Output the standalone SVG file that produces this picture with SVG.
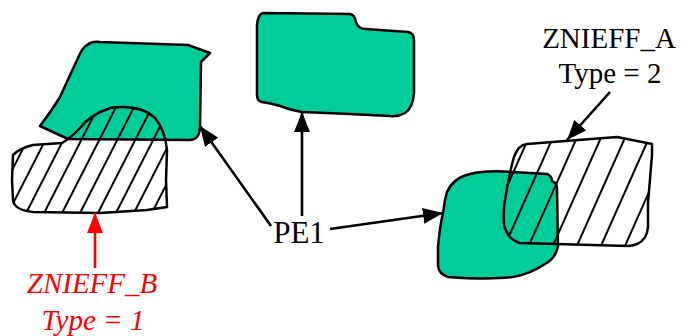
<svg xmlns="http://www.w3.org/2000/svg" width="681" height="336" viewBox="0 0 681 336">
<style>
.green{fill:#00CC99;stroke:#000;stroke-width:2.5;stroke-linejoin:round}
.hatchL{fill:url(#hL);stroke:#000;stroke-width:2.5;stroke-linejoin:round}
.hatchR{fill:url(#hR);stroke:#000;stroke-width:2.5;stroke-linejoin:round}
.lbl{font-family:"Liberation Serif","Times New Roman",serif;font-size:29px;text-anchor:middle;fill:#000}
.red{fill:#FF0000;font-style:italic}
.conn{stroke:#000;stroke-width:2.6;fill:none}
.connR{stroke:#FF0000;stroke-width:2.6;fill:none}
</style>
<defs>
<pattern id="hL" patternUnits="userSpaceOnUse" width="16" height="16" patternTransform="rotate(27)">
<line x1="8" y1="0" x2="8" y2="16" stroke="#000" stroke-width="2"/>
</pattern>
<pattern id="hR" patternUnits="userSpaceOnUse" width="22" height="22" patternTransform="rotate(24)">
<line x1="11" y1="0" x2="11" y2="22" stroke="#000" stroke-width="2"/>
</pattern>
<marker id="ah" markerUnits="userSpaceOnUse" markerWidth="20" markerHeight="16" refX="20" refY="8" orient="auto">
<path d="M0,0 L20,8 L0,16 Z" fill="#000"/>
</marker>
<marker id="ahR" markerUnits="userSpaceOnUse" markerWidth="20" markerHeight="16" refX="20" refY="8" orient="auto">
<path d="M0,0 L20,8 L0,16 Z" fill="#FF0000"/>
</marker>
</defs>
<g id="pe1-left">
<path class="green" d="M 87,45 Q 92,41 100,42 L 188,45 L 210,53 L 201,62 L 200,128 Q 199,140 190,140 L 68,139 Q 55,133 40,126 Q 52,110 60,97 Q 70,75 78,58 Q 82,48 87,45 Z"/>
</g>
<g id="znieff-b-shape">
<path class="hatchL" d="M 13,155 Q 20,148 33,145 L 62,143 Q 72,137 80,128 Q 90,115 110,108 Q 140,104 155,118 Q 165,130 167,150 L 166,180 L 167,207 L 147,210 L 100,213 L 33,212 Q 14,210 13,200 L 12,180 Z"/>
</g>
<g id="pe1-middle">
<path class="green" d="M 263,13 L 350,14 Q 355,15 356,22 Q 358,29 366,29 L 408,32 Q 414,33 414,40 L 414,93 Q 413,108 405,113 Q 398,117 390,116 L 350,114 L 302,112 Q 290,110 280,106 Q 270,103 262,102 Q 257,101 257,95 L 257,25 Q 258,14 263,13 Z"/>
</g>
<g id="pe1-right">
<path class="green" d="M 447,192 Q 453,178 470,174 Q 485,170 513,172 L 547,174 Q 552,176 552,181 Q 557,183 557,188 L 558,246 Q 556,258 545,264 Q 530,274 513,277 Q 490,280 448,277 Q 439,274 438,266 L 438,247 Q 440,225 443,213 L 445,200 Z"/>
</g>
<g id="znieff-a-shape">
<path class="hatchR" d="M 527,144 L 617,137 L 652,144 L 652,155 L 648,203 L 648,227 Q 647,240 637,244 Q 632,246 628,246 L 520,243 Q 508,240 504,225 Q 503,210 505,200 Q 510,170 514,157 Q 518,145 527,144 Z"/>
</g>
<g id="connectors">
<line class="connR" x1="95" y1="268" x2="95" y2="213" marker-end="url(#ahR)"/>
<line class="conn" x1="302" y1="216" x2="302" y2="112" marker-end="url(#ah)"/>
<line class="conn" x1="271" y1="226" x2="200" y2="126" marker-end="url(#ah)"/>
<line class="conn" x1="330" y1="229" x2="443" y2="213" marker-end="url(#ah)"/>
<line class="conn" x1="610" y1="92" x2="567" y2="140" marker-end="url(#ah)"/>
</g>
<g id="label-pe1">
<text class="lbl" x="299" y="243" style="font-size:31px">PE1</text>
</g>
<g id="label-znieff-a">
<text class="lbl" x="609" y="48">ZNIEFF_A</text>
<text class="lbl" x="610" y="83">Type = 2</text>
</g>
<g id="label-znieff-b">
<text class="lbl red" x="92" y="293">ZNIEFF_B</text>
<text class="lbl red" x="93" y="330">Type = 1</text>
</g>
</svg>
